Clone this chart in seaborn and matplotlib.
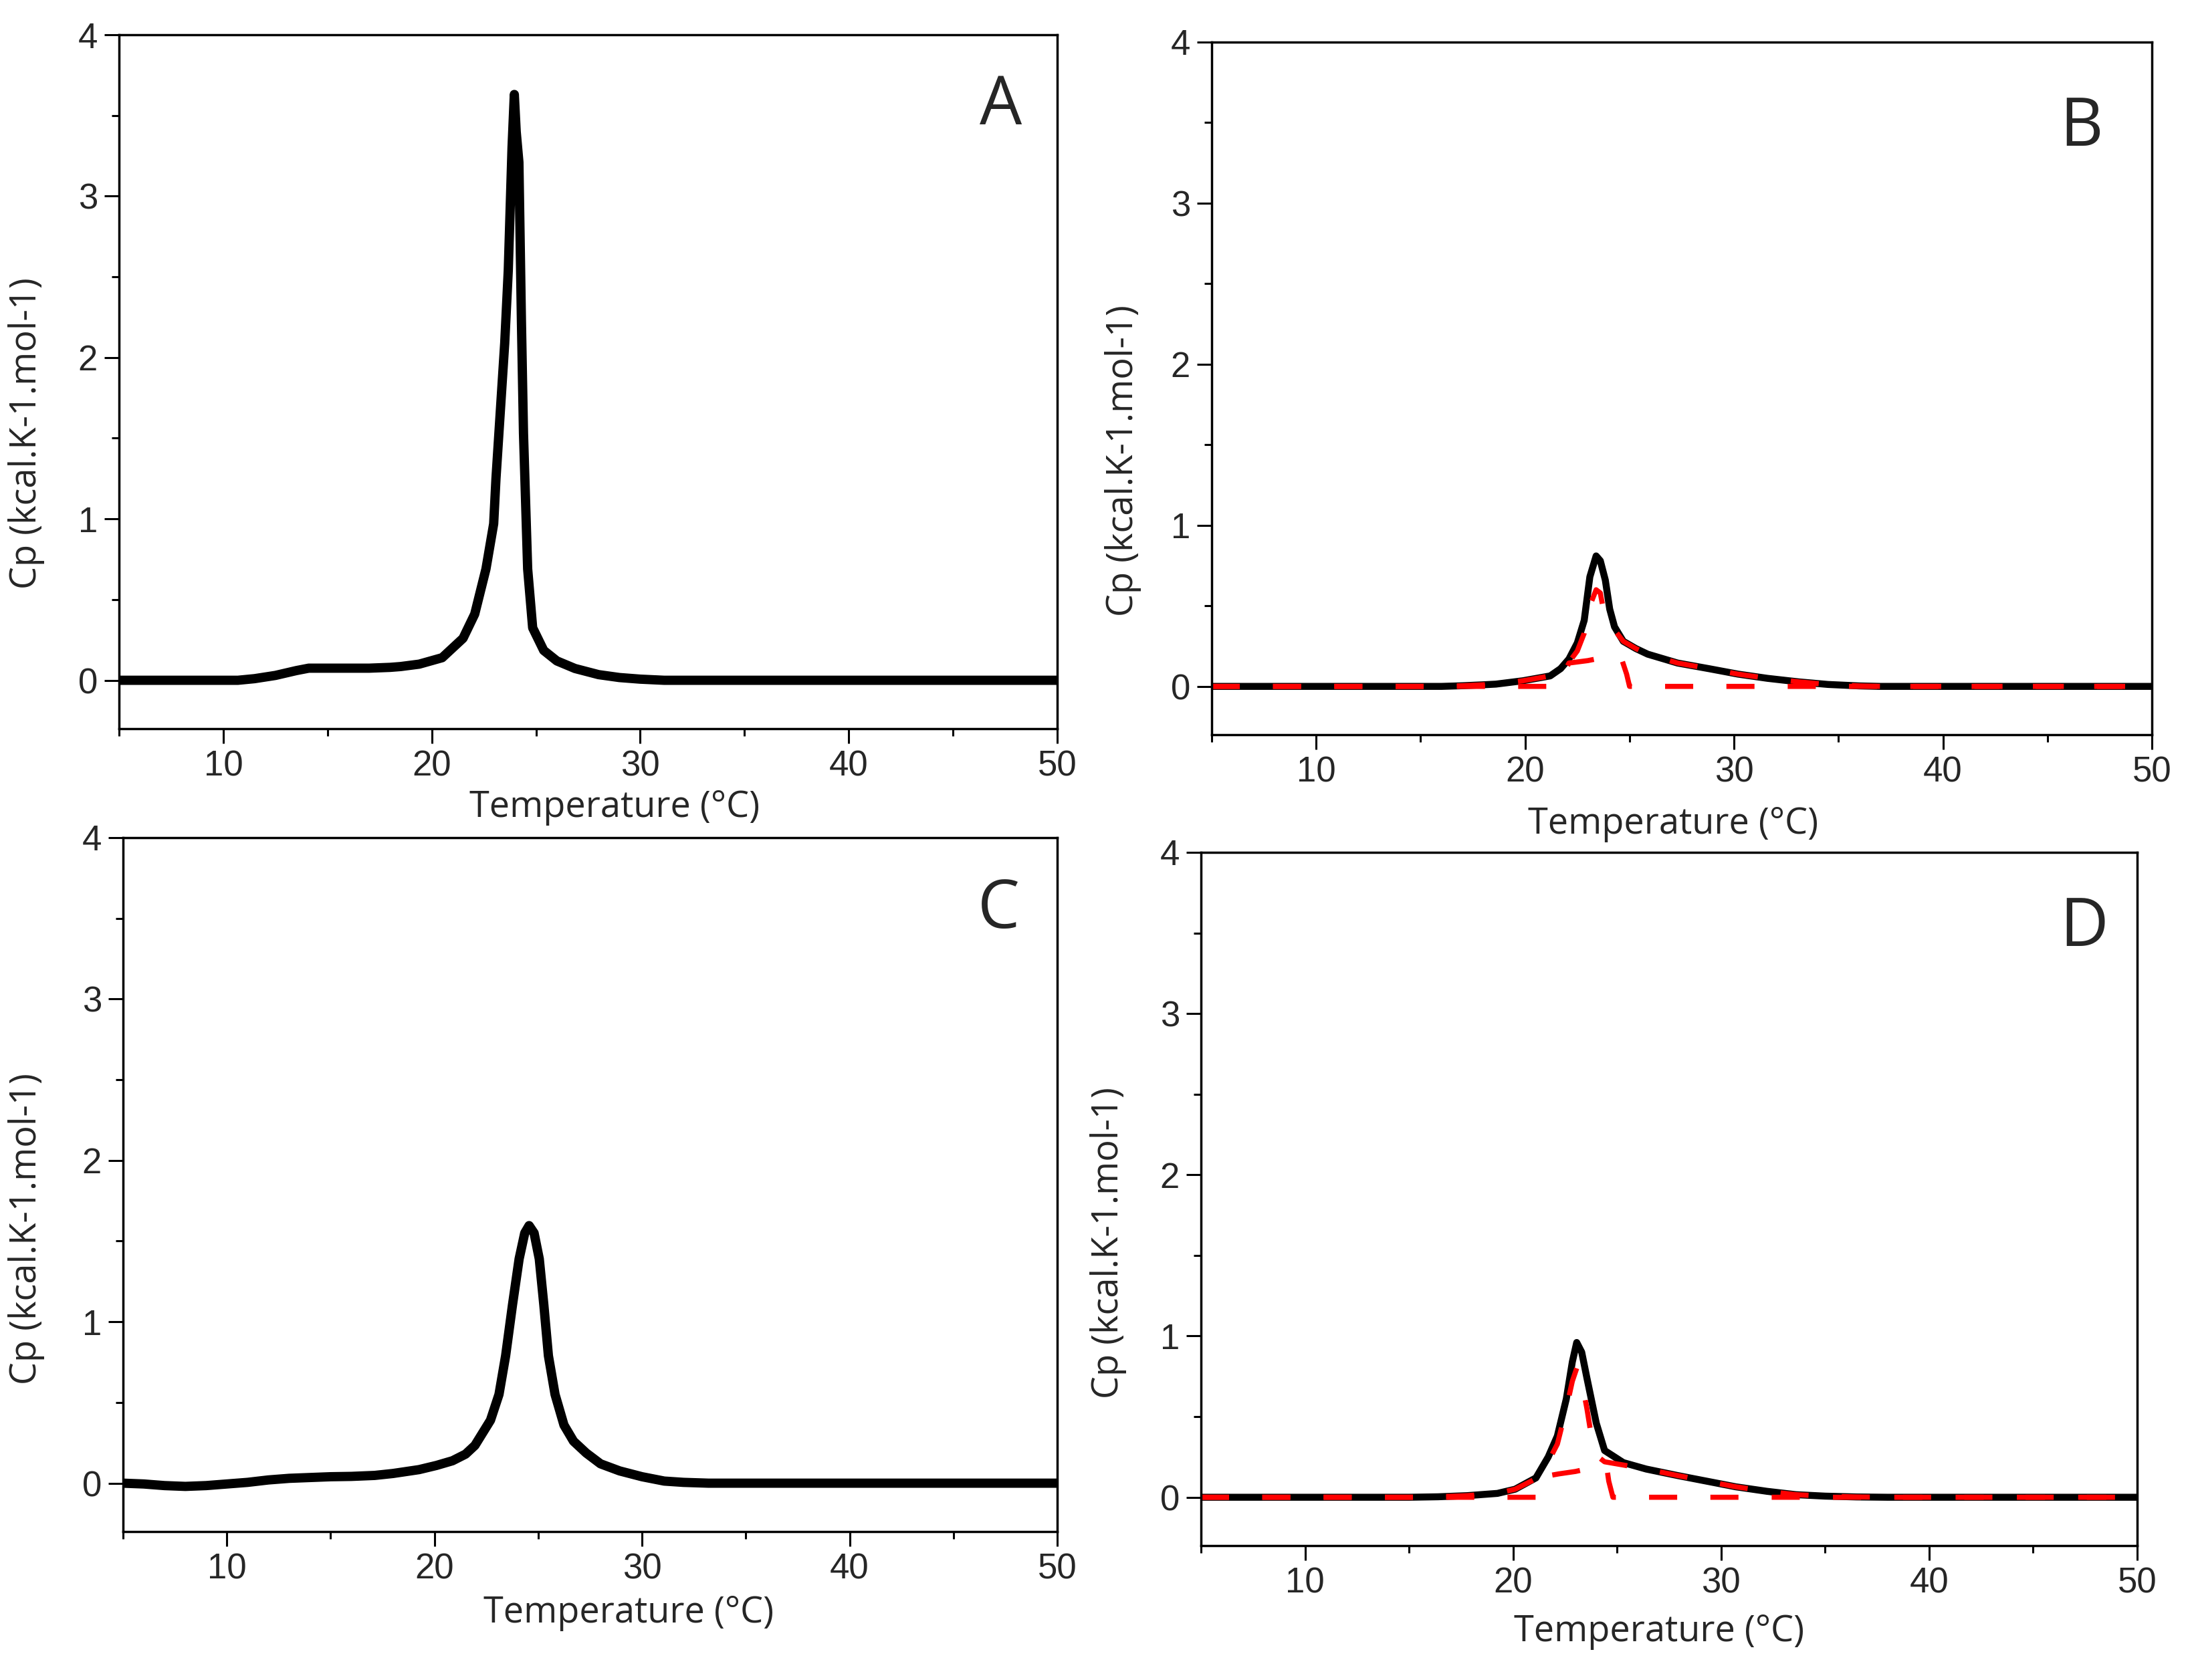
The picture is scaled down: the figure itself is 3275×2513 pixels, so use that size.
import numpy as np
import seaborn as sns
import matplotlib.pyplot as plt
from matplotlib.ticker import MultipleLocator

# Panel A: black DSC trace
a_temp = [5, 10, 10.7, 11.5, 12.5, 13.5, 14.1, 15, 16, 17, 18, 18.5, 19.4, 20.5, 21.5,
          22.06, 22.6, 22.97, 23.08, 23.29, 23.5, 23.67, 23.85, 23.96, 24.05, 24.18, 24.3,
          24.4, 24.6, 24.84, 25.37, 26, 26.87, 28, 29, 30, 31.15, 50]
a_cp = [0, 0, 0.0, 0.01, 0.03, 0.06, 0.075, 0.075, 0.075, 0.075, 0.08, 0.085, 0.1, 0.14, 0.26,
        0.41, 0.69, 0.97, 1.25, 1.67, 2.09, 2.54, 3.3, 3.63, 3.4, 3.21, 2.23,
        1.53, 0.69, 0.325, 0.185, 0.12, 0.073, 0.035, 0.017, 0.007, 0, 0]

# Panel B: black trace + two red fitted components
b_temp = [5, 16, 17, 18, 18.6, 19.9, 21.2, 21.7, 22.1, 22.5, 22.83, 23.1, 23.4, 23.6, 23.84,
          24.05, 24.28, 24.7, 25.3, 25.87, 27.3, 28.8, 30.2, 31.6, 33.1, 34.5, 36, 37, 50]
b_cp = [0, 0, 0.004, 0.01, 0.014, 0.035, 0.065, 0.11, 0.17, 0.27, 0.41, 0.68, 0.81, 0.78, 0.66,
        0.48, 0.37, 0.28, 0.235, 0.2, 0.145, 0.11, 0.076, 0.05, 0.028, 0.012, 0.003, 0, 0]
b_fit1_temp = [5, 16, 17, 18, 18.6, 19.9, 21.2, 21.7, 22.1, 22.5, 22.83, 23.1, 23.4, 23.6, 23.77,
               24.05, 24.28, 24.7, 25.3, 25.87, 27.3, 28.8, 30.2, 31.6, 33.1, 34.5, 36, 37, 50]
b_fit1_cp = [0, 0, 0.004, 0.01, 0.014, 0.035, 0.065, 0.1, 0.15, 0.22, 0.33, 0.5, 0.6, 0.58, 0.46,
             0.4, 0.35, 0.28, 0.235, 0.2, 0.145, 0.11, 0.076, 0.05, 0.028, 0.012, 0.003, 0, 0]
b_fit2_temp = [5, 21.45, 21.8, 22.1, 23.0, 23.77, 24.57, 24.86, 25.0, 50]
b_fit2_cp = [0, 0, 0.07, 0.145, 0.16, 0.18, 0.19, 0.076, 0, 0]

# Panel C: black trace
c_temp = [5, 6, 7, 8, 9, 10, 11, 12, 13, 14, 15, 16, 17.12, 18, 19.26, 20.1, 20.87, 21.5, 21.95,
          22.7, 23.11, 23.43, 23.76, 24.08, 24.35, 24.56, 24.8, 25.05, 25.27, 25.49, 25.81,
          26.24, 26.7, 27.31, 28, 28.92, 30, 31.07, 32, 33.2, 50]
c_cp = [0, -0.005, -0.015, -0.02, -0.015, -0.005, 0.005, 0.02, 0.03, 0.035, 0.04, 0.042, 0.048,
        0.06, 0.084, 0.11, 0.139, 0.18, 0.234, 0.39, 0.55, 0.79, 1.105, 1.39, 1.55, 1.596, 1.55,
        1.39, 1.105, 0.79, 0.55, 0.36, 0.26, 0.187, 0.12, 0.076, 0.04, 0.013, 0.005, 0, 0]

# Panel D: black trace + two red fitted components
d_temp = [5, 15, 16.4, 17.8, 19.25, 20.1, 21.1, 21.69, 22.13, 22.56, 22.85, 23.06, 23.3, 23.55,
          24.0, 24.4, 25.3, 26.4, 27.9, 29.3, 30.7, 32.2, 33.6, 35.0, 36.5, 38, 50]
d_cp = [0, 0, 0.003, 0.01, 0.024, 0.05, 0.12, 0.25, 0.38, 0.61, 0.84, 0.96, 0.9, 0.74,
        0.46, 0.29, 0.215, 0.175, 0.135, 0.1, 0.065, 0.037, 0.016, 0.007, 0.002, 0, 0]
d_fit1_temp = [5, 15, 16.4, 17.8, 19.25, 20.1, 21.1, 21.69, 22.13, 22.56, 22.85, 23.06, 23.3,
               23.55, 23.8, 24.1, 24.4, 25.3, 26.4, 27.9, 29.3, 30.7, 32.2, 33.6, 35.0, 36.5, 38, 50]
d_fit1_cp = [0, 0, 0.003, 0.01, 0.024, 0.05, 0.115, 0.22, 0.33, 0.55, 0.72, 0.8, 0.72,
             0.55, 0.35, 0.25, 0.22, 0.2, 0.175, 0.135, 0.1, 0.065, 0.037, 0.016, 0.007, 0.002, 0, 0]
d_fit2_temp = [5, 21.3, 21.55, 22.2, 23.0, 23.7, 24.5, 24.6, 24.8, 50]
d_fit2_cp = [0, 0, 0.13, 0.145, 0.16, 0.18, 0.19, 0.1, 0, 0]

panel_letters = ['A', 'B', 'C', 'D']
x_label = 'Temperature (°C)'
y_label = 'Cp (kcal.K-1.mol-1)'

sns.set_style('ticks')
plt.rcParams['font.family'] = ['Liberation Sans', 'DejaVu Sans']

W, H = 3275, 2513
fig = plt.figure(figsize=(W / 100, H / 100), dpi=100)

# axes boxes in pixels: left, right, top, bottom
boxes = [(178, 1581, 52, 1090), (1812, 3218, 63, 1099),
         (184, 1581, 1253, 2291), (1796, 3196, 1275, 2312)]
xlab_pos = [(0.528, -0.087), (0.491, -0.102), (0.541, -0.091), (0.489, -0.097)]
ylab_pos = [(-0.079, 0.426), (-0.075, 0.396), (-0.084, 0.436), (-0.079, 0.437)]
letter_pos = [(0.940, 0.896), (0.925, 0.876), (0.937, 0.895), (0.943, 0.890)]

curves = [(a_temp, a_cp), (b_temp, b_cp), (c_temp, c_cp), (d_temp, d_cp)]
fits = [[], [(b_fit1_temp, b_fit1_cp), (b_fit2_temp, b_fit2_cp)],
        [], [(d_fit1_temp, d_fit1_cp), (d_fit2_temp, d_fit2_cp)]]
black_lw = [10, 7.5, 10, 7.5]

for i in range(4):
    l, r, t, b = boxes[i]
    ax = fig.add_axes([l / W, 1 - b / H, (r - l) / W, (b - t) / H])
    xs, ys = curves[i]
    sns.lineplot(x=xs, y=ys, ax=ax, color='black', lw=black_lw[i], sort=False,
                 solid_joinstyle='round', solid_capstyle='butt')
    for fx, fy in fits[i]:
        sns.lineplot(x=fx, y=fy, ax=ax, color='#ff0000', lw=5.5, sort=False,
                     linestyle=(0, (5.5, 6.5)))
    ax.set_xlim(5, 50)
    ax.set_ylim(-0.3, 4)
    ax.xaxis.set_major_locator(MultipleLocator(10))
    ax.xaxis.set_minor_locator(MultipleLocator(5))
    ax.yaxis.set_major_locator(MultipleLocator(1))
    ax.yaxis.set_minor_locator(MultipleLocator(0.5))
    ax.tick_params(which='both', direction='out', top=False, right=False,
                   width=2.2, color='black', labelsize=38)
    ax.tick_params(which='major', length=16, pad=7)
    ax.tick_params(which='minor', length=8)
    for sp in ax.spines.values():
        sp.set_visible(True)
        sp.set_linewidth(2.5)
        sp.set_color('black')
    ax.set_xlabel(x_label, fontsize=39, family='Open Sans')
    ax.set_ylabel(y_label, fontsize=39, family='Open Sans')
    ax.xaxis.set_label_coords(*xlab_pos[i])
    ax.yaxis.set_label_coords(*ylab_pos[i])
    ax.text(letter_pos[i][0], letter_pos[i][1], panel_letters[i], transform=ax.transAxes,
            ha='center', va='center', fontsize=72, family='Open Sans')

fig.savefig('out.png', dpi=100, facecolor='white')
